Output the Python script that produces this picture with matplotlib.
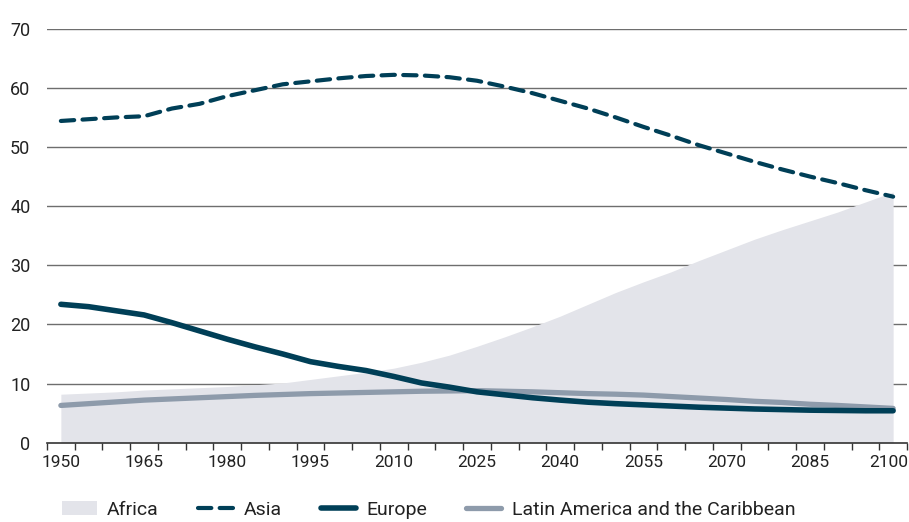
import numpy as np
import matplotlib
matplotlib.use("Agg")
import matplotlib.pyplot as plt
from matplotlib.ticker import FixedLocator
from matplotlib.patches import Patch
from matplotlib.lines import Line2D
from matplotlib.transforms import ScaledTranslation

plt.rcParams['font.family'] = ['Roboto', 'DejaVu Sans']

years = list(range(1950, 2101, 5))

africa = [8.2, 8.4, 8.6, 8.9, 9.1, 9.3, 9.5, 9.8, 10.1, 10.7, 11.3, 11.9,
          12.6, 13.6, 14.8, 16.3, 17.9, 19.6, 21.4, 23.4, 25.4, 27.2, 28.9,
          30.8, 32.6, 34.4, 36.0, 37.5, 39.0, 40.7, 42.4]
asia = [54.4, 54.7, 55.0, 55.2, 56.5, 57.3, 58.6, 59.6, 60.6, 61.1, 61.6,
        62.0, 62.2, 62.1, 61.8, 61.2, 60.2, 59.1, 57.8, 56.5, 55.0, 53.4,
        51.9, 50.3, 48.9, 47.5, 46.2, 45.0, 43.9, 42.7, 41.6]
europe = [23.4, 23.0, 22.3, 21.6, 20.3, 18.9, 17.5, 16.2, 15.0, 13.7, 12.9,
          12.2, 11.2, 10.1, 9.4, 8.6, 8.1, 7.6, 7.2, 6.85, 6.6, 6.4, 6.2,
          6.0, 5.85, 5.7, 5.6, 5.5, 5.45, 5.4, 5.4]
latam = [6.3, 6.6, 6.9, 7.2, 7.4, 7.6, 7.8, 8.0, 8.15, 8.3, 8.4, 8.5, 8.6,
         8.7, 8.75, 8.8, 8.7, 8.6, 8.45, 8.3, 8.2, 8.05, 7.8, 7.55, 7.3,
         7.0, 6.8, 6.5, 6.3, 6.05, 5.8]

dark = "#003f57"
grey_line = "#8e9bab"
fill_col = "#e3e4ea"
text_col = "#222222"

fig = plt.figure(figsize=(9.09, 5.22), dpi=100)
ax = fig.add_axes([47 / 909, 79.3 / 522, 860 / 909, (442.7 - 28.7) / 522])

ax.set_ylim(0, 70)
ax.set_xlim(1947.5, 2102.5)
for v in range(10, 71, 10):
    ax.axhline(v, color="#6e6e6e", lw=1.0, zorder=0)

ax.fill_between(years, 0, africa, color=fill_col, lw=0, zorder=1)
ax.plot(years, latam, color=grey_line, lw=3.8, solid_capstyle="round", zorder=2)
ax.plot(years, europe, color=dark, lw=4.0, solid_capstyle="round", zorder=3)
ax.plot(years, asia, color=dark, lw=3.0, dashes=(3.2, 2.0),
        dash_capstyle="round", zorder=4)

for s in ["left", "right", "top"]:
    ax.spines[s].set_visible(False)
ax.spines["bottom"].set_color("#333333")
ax.spines["bottom"].set_linewidth(1.2)

ax.set_yticks(range(0, 71, 10))
ax.tick_params(axis="y", length=0, pad=12, labelsize=13, labelcolor=text_col)
ax.set_xticks(range(1950, 2101, 15))
ax.xaxis.set_minor_locator(FixedLocator(np.arange(1947.5, 2103, 5)))
ax.tick_params(axis="x", which="major", length=0, pad=9, labelsize=12.5,
               labelcolor=text_col)
ax.tick_params(axis="x", which="minor", length=5, width=1, color="#333333")
last = ax.get_xticklabels()[-1]
last.set_transform(last.get_transform()
                   + ScaledTranslation(-4 / 100, 0, fig.dpi_scale_trans))

handles = [
    Patch(facecolor=fill_col, edgecolor="none"),
    Line2D([0], [0], color=dark, lw=3.0, dashes=(3.2, 2.0), dash_capstyle="round"),
    Line2D([0], [0], color=dark, lw=4.0, solid_capstyle="round"),
    Line2D([0], [0], color=grey_line, lw=3.8, solid_capstyle="round"),
]
labels = ["Africa", "Asia", "Europe", "Latin America and the Caribbean"]
fig.legend(handles, labels, loc="center left", bbox_to_anchor=(44 / 909, 12 / 522),
           ncol=4, frameon=False, fontsize=14, handlelength=1.8,
           handletextpad=0.55, columnspacing=2.0, labelcolor=text_col)

fig.savefig("out.png", dpi=100)
